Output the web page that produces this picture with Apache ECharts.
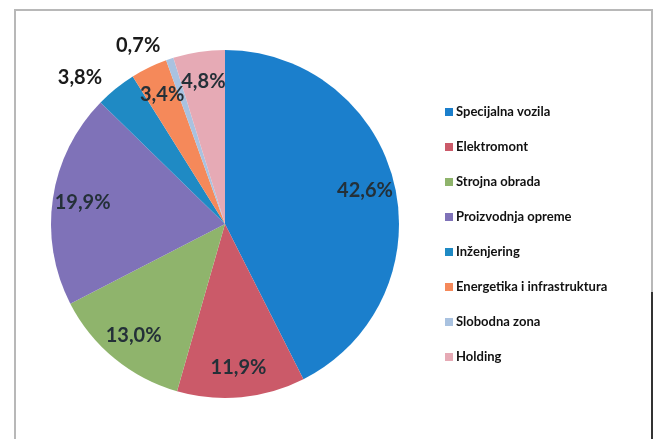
<!DOCTYPE html>
<html>
<head>
<meta charset="utf-8">
<script src="https://cdn.jsdelivr.net/npm/echarts@6/dist/echarts.min.js"></script>
<style>
  html, body { margin: 0; padding: 0; background: #fff; }
  #chart { width: 656px; height: 439px; }
</style>
</head>
<body>
<div id="chart"></div>
<script>
// udjeli po djelatnosti (%)
const categories = ['Specijalna vozila', 'Elektromont', 'Strojna obrada', 'Proizvodnja opreme',
  'Inženjering', 'Energetika i infrastruktura', 'Slobodna zona', 'Holding']
const values = [42.6, 11.9, 13.0, 19.9, 3.8, 3.4, 0.7, 4.8]
const labels = ['42,6%', '11,9%', '13,0%', '19,9%', '3,8%', '3,4%', '0,7%', '4,8%']
const outsideLabels = ['Inženjering', 'Slobodna zona']

const colors = ['#1b7fcc', '#cb5a69', '#8fb46c', '#7f72b8', '#1f8ac4', '#f5895a', '#a9c2e0', '#e6aab5']

const chart = echarts.init(document.getElementById('chart'))

const center = [225, 224]
const radius = 174

const option = {
  animation: false,
  color: colors,
  graphic: [
    {
      type: 'rect',
      shape: { x: 15, y: 10, width: 637, height: 440 },
      style: { fill: 'none', stroke: '#b8b8b8', lineWidth: 2 },
      silent: true
    },
    {
      type: 'line',
      shape: { x1: 652, y1: 292, x2: 652, y2: 439 },
      style: { stroke: '#333', lineWidth: 2 },
      silent: true
    }
  ],
  legend: {
    orient: 'vertical',
    left: 440,
    top: 100,
    icon: 'rect',
    itemWidth: 8,
    itemHeight: 8,
    itemGap: 21,
    data: categories,
    textStyle: {
      fontFamily: 'Lato',
      fontWeight: 'bold',
      fontSize: 13,
      lineHeight: 14,
      color: '#111',
      padding: [0, 0, 0, -2]
    }
  },
  series: [
    {
      name: 'slices',
      type: 'pie',
      center: center,
      radius: [0, radius],
      startAngle: 90,
      clockwise: true,
      label: { show: false },
      labelLine: { show: false },
      data: categories.map((c, i) => ({ name: c, value: values[i] }))
    },
    {
      // prozirni sloj samo za položaj oznaka
      name: 'labels',
      type: 'pie',
      silent: true,
      center: center,
      radius: [radius * 0.62, radius],
      startAngle: 90,
      clockwise: true,
      itemStyle: { color: 'rgba(0,0,0,0)' },
      labelLine: { show: false, length: 14, length2: 0 },
      avoidLabelOverlap: false,
      labelLayout: { hideOverlap: false },
      label: {
        show: true,
        position: 'inside',
        fontFamily: 'Lato',
        fontWeight: 'bold',
        fontSize: 20,
        color: '#243038',
        formatter: p => labels[p.dataIndex]
      },
      data: categories.map((c, i) => ({
        name: c,
        value: values[i],
        label: outsideLabels.includes(c)
          ? { position: 'outside', color: '#1a1a1a' }
          : {}
      }))
    }
  ]
}

chart.setOption(option)
</script>
</body>
</html>
